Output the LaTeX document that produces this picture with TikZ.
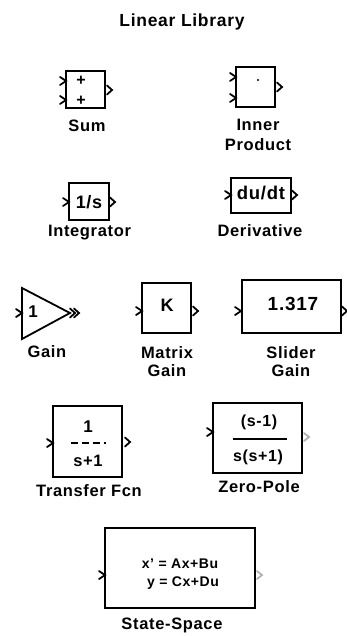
\documentclass[tikz,border=0pt]{standalone}
\usepackage{fontspec}
\setmainfont{Liberation Sans}[LetterSpace=4]
\usetikzlibrary{calc}
\tikzset{
  blk/.style={draw, line width=1.8pt, inner sep=0pt},
  lbl/.style={inner sep=0pt, font=\fontsize{16.5}{18}\selectfont\bfseries},
  txt/.style={inner sep=0pt, font=\fontsize{16}{18}\selectfont\bfseries},
  port/.style={line width=1.8pt, line join=miter, line cap=round},
  faint/.style={port, draw=black!30},
  inport/.pic={\draw[port] (-6,-4) -- (0,0) -- (-6,4);},
  outport/.pic={\draw[port] (0,-4.5) -- (5,0) -- (0,4.5);},
  fadeport/.pic={\draw[faint] (0,-4) -- (5,0) -- (0,4);}
}
\begin{document}
\begin{tikzpicture}[x=1pt,y=-1pt]
\useasboundingbox (0,0) rectangle (346,636);
% title
\node[txt, font=\fontsize{17.5}{20}\selectfont\bfseries] (title) at (182,22) {Linear Library};
% Sum
\node[blk, minimum width=39, minimum height=37] (sum) at (85.5,89.5) {};
\node[txt] (sump1) at (81,81) {+};
\node[txt] (sump2) at (81,101) {+};
\pic at (66,81) {inport};
\pic at (66,100) {inport};
\pic at (107,90) {outport};
\node[lbl] (suml) at (87,126) {Sum};
% Inner product
\node[blk, minimum width=39, minimum height=40] (inner) at (255.5,87) {};
\node[circle, fill, inner sep=0.8pt] (innerdot) at (258,80) {};
\pic at (236,77) {inport};
\pic at (236,98) {inport};
\pic at (277,87) {outport};
\node[lbl] (innerl1) at (258,125) {Inner};
\node[lbl] (innerl2) at (258,145) {Product};
% Integrator
\node[blk, minimum width=40, minimum height=37] (integ) at (89,201.5) {};
\node[txt, font=\fontsize{18}{20}\selectfont\bfseries] (integt) at (89,202) {1/s};
\pic at (69,202) {inport};
\pic at (110,202) {outport};
\node[lbl] (integl) at (89.5,233) {Integrator};
% Derivative
\node[blk, minimum width=60, minimum height=35] (deriv) at (261,195.5) {};
\node[txt, font=\fontsize{18.5}{20}\selectfont\bfseries] (derivt) at (261,192.5) {du/dt};
\pic at (231,195) {inport};
\pic at (292,195) {outport};
\node[lbl] (derivl) at (260,231) {Derivative};
% Gain
\coordinate (gaintip) at (70,313);
\draw[line width=1.8pt, line join=miter] (22,288) -- (gaintip) -- (22,339) -- cycle;
\node[txt, font=\fontsize{17}{19}\selectfont\bfseries] (gaint) at (33,312) {1};
\pic at (22,313) {inport};
\pic at (70,313) {outport};
\pic at (74,313) {outport};
\node[lbl] (gainl) at (47,352) {Gain};
% Matrix gain
\node[blk, minimum width=49, minimum height=50] (mgain) at (166.5,308) {};
\node[txt, font=\fontsize{18}{20}\selectfont\bfseries] (mgaint) at (167,305) {K};
\pic at (142,311) {inport};
\pic at (193,311) {outport};
\node[lbl] (mgainl1) at (167,352.5) {Matrix};
\node[lbl] (mgainl2) at (167,371) {Gain};
% Slider gain
\node[blk, minimum width=99, minimum height=53] (sgain) at (291.5,306.5) {};
\node[txt, font=\fontsize{19}{21}\selectfont\bfseries] (sgaint) at (293,304) {1.317};
\pic at (241,311) {inport};
\pic at (342,311) {outport};
\node[lbl] (sgainl1) at (291,352.5) {Slider};
\node[lbl] (sgainl2) at (291,371) {Gain};
% Transfer Fcn
\node[blk, minimum width=69, minimum height=71] (tf) at (87.5,441.5) {};
\node[txt, font=\fontsize{17}{19}\selectfont\bfseries] (tfnum) at (88,427) {1};
\draw[line width=1.5pt, dash pattern=on 7pt off 4pt] ($(tf.center)+(-17,1.5)$) coordinate (tfbarl) -- ($(tf.center)+(18,1.5)$) coordinate (tfbarr);
\node[txt, font=\fontsize{16.5}{19}\selectfont\bfseries] (tfden) at (88,461) {s+1};
\pic at (53,443) {inport};
\pic at (125,442) {outport};
\node[lbl] (tfl) at (89,491) {Transfer Fcn};
% Zero-Pole
\node[blk, minimum width=89, minimum height=70] (zp) at (257.5,438) {};
\node[txt] (zpnum) at (259,422) {(s-1)};
\draw[line width=1.2pt] ($(zp.center)+(-25,1)$) coordinate (zpbarl) -- ($(zp.center)+(29,1)$) coordinate (zpbarr);
\node[txt] (zpden) at (258,457) {s(s+1)};
\pic at (213,432) {inport};
\pic at (304,437) {fadeport};
\node[lbl] (zpl) at (259,487) {Zero-Pole};
% State-Space
\node[blk, minimum width=150, minimum height=80] (ss) at (180,568) {};
\node[txt, font=\fontsize{14}{17}\selectfont\bfseries] (ss1) at (180,564) {x' = Ax+Bu};
\node[txt, font=\fontsize{14}{17}\selectfont\bfseries] (ss2) at (183,583) {y = Cx+Du};
\pic at (105,575) {inport};
\pic at (257,575) {fadeport};
\node[lbl] (ssl) at (172,625) {State-Space};
\end{tikzpicture}
\end{document}
